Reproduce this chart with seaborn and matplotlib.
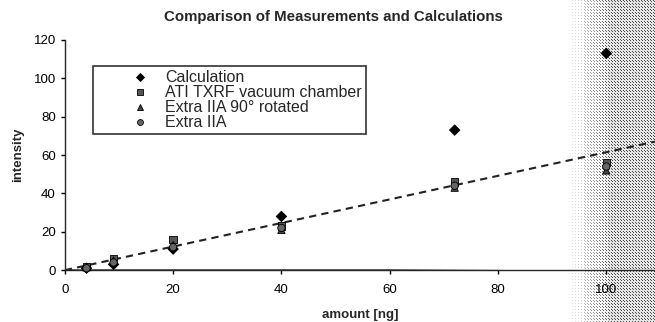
import numpy as np
import pandas as pd
import matplotlib
matplotlib.use("Agg")
import matplotlib.pyplot as plt
import seaborn as sns

# ---- data ----
amount = [4, 9, 20, 40, 72, 100]
calculation = [1, 3, 11, 28, 73, 113]
ati_txrf = [2, 6, 16, 23, 46, 56]
extra_90 = [1.5, 5, 13, 21, 43, 52]
extra_iia = [1, 4, 12, 22, 44, 54]
series_names = ["Calculation", "ATI TXRF vacuum chamber",
                "Extra IIA 90° rotated", "Extra IIA"]

fit_x = [0, 109]
fit_y = [0, 67]
base_x = [0, 20, 40, 60, 80, 90, 100, 109]
base_y = [0, 0, 0, 0, -0.3, -0.8, -2, -3]

x_ticks = [0, 20, 40, 60, 80, 100]
y_ticks = [0, 20, 40, 60, 80, 100, 120]

sns.set_theme(style="ticks")
plt.rcParams["font.family"] = ["Liberation Sans", "DejaVu Sans"]

df = pd.DataFrame({
    "amount": amount * 4,
    "intensity": calculation + ati_txrf + extra_90 + extra_iia,
    "series": sum([[n] * len(amount) for n in series_names], []),
})

fig = plt.figure(figsize=(6.55, 3.22), dpi=100)

# halftone-like shading at right (scan artefact)
bg = fig.add_axes([0.86, 0.0, 0.14, 1.0], zorder=0)
h, w = 322, 92
yy, xx = np.mgrid[0:h, 0:w]
grad = np.clip((xx - 3) / 45.0, 0, 1)
level = 1.0 - 0.4 * grad
dots = ((xx % 3 == 0) & (yy % 3 == 0)) | ((xx % 3 == 1) & (yy % 3 == 1) & (grad > 0.4))
img = np.where(dots, level - 0.3 * grad, np.minimum(1.0, level + 0.3))
img[:, :2] = 1.0
bg.imshow(img, cmap="gray", vmin=0, vmax=1, aspect="auto", interpolation="nearest")
bg.axis("off")

ax = fig.add_axes([0.099, 0.161, 0.901, 0.715], zorder=1)
ax.patch.set_alpha(0)

markers = {"Calculation": "D", "ATI TXRF vacuum chamber": "s",
           "Extra IIA 90° rotated": "^", "Extra IIA": "o"}
palette = {"Calculation": "black", "ATI TXRF vacuum chamber": "#555555",
           "Extra IIA 90° rotated": "#444444", "Extra IIA": "#666666"}

sns.lineplot(x=fit_x, y=fit_y, ax=ax, color="#222222", linestyle=(0, (3.5, 2.5)),
             linewidth=1.5, legend=False)
sns.lineplot(x=base_x, y=base_y, ax=ax, color="#222222", linewidth=1.2,
             legend=False)
sns.scatterplot(data=df, x="amount", y="intensity", hue="series", style="series",
                markers=markers, palette=palette, hue_order=series_names,
                style_order=series_names, s=28, edgecolor="black",
                linewidth=0.6, ax=ax, zorder=3, clip_on=False)

ax.set_xlim(0, 109)
ax.set_ylim(0, 120)
ax.set_xticks(x_ticks)
ax.set_yticks(y_ticks)
ax.tick_params(labelsize=9.5, length=3, width=1, colors="black")
ax.tick_params(axis="x", pad=7)
sns.despine(ax=ax, top=True, right=True)
ax.spines["left"].set_linewidth(1.0)
ax.spines["bottom"].set_linewidth(1.0)
ax.set_xlabel("amount [ng]", fontsize=9.5, fontweight="bold", labelpad=9)
ax.set_ylabel("intensity", fontsize=9.5, fontweight="bold", labelpad=7)
fig.text(333 / 655, 1 - 17 / 322, "Comparison of Measurements and Calculations",
         fontsize=10.8, fontweight="bold", ha="center", va="center")

leg = ax.legend(loc="upper left", bbox_to_anchor=(0.047, 0.885), frameon=True,
                fancybox=False, edgecolor="black", fontsize=11.5,
                handletextpad=-1.2, labelspacing=0.0, borderpad=0.25,
                borderaxespad=0, handlelength=5.5, markerscale=0.8)
leg.get_frame().set_linewidth(1.2)

fig.savefig("out.png", dpi=100)
